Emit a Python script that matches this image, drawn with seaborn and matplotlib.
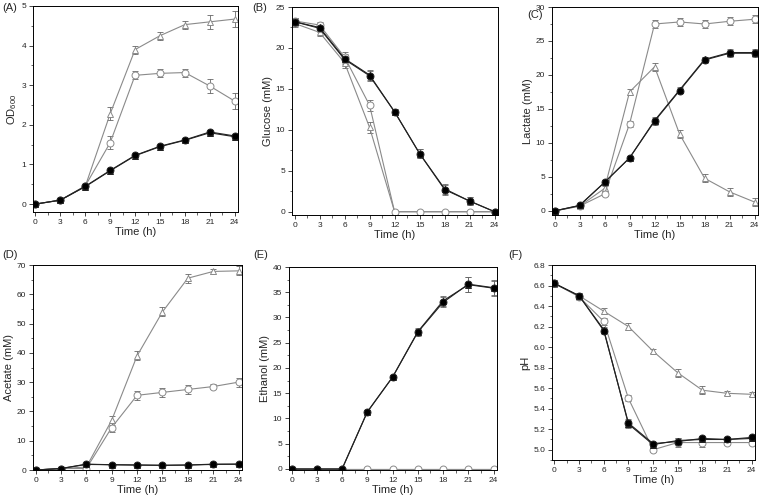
import numpy as np
import pandas as pd
import matplotlib
matplotlib.use("Agg")
import matplotlib.pyplot as plt
from matplotlib.ticker import MultipleLocator, AutoMinorLocator
import seaborn as sns

# sampling times (h)
time_h = [0, 3, 6, 9, 12, 15, 18, 21, 24]

# (A) OD600
od_fc = [0.0, 0.10, 0.45, 0.85, 1.23, 1.46, 1.62, 1.82, 1.72]
od_ft = [0.0, 0.10, 0.44, 0.84, 1.22, 1.45, 1.61, 1.80, 1.70]
od_oc = [0.0, 0.10, 0.46, 1.55, 3.25, 3.30, 3.32, 2.98, 2.60]
od_ot = [0.0, 0.10, 0.45, 2.28, 3.90, 4.25, 4.53, 4.60, 4.67]
od_err_f = [0.02, 0.02, 0.02, 0.04, 0.04, 0.04, 0.04, 0.05, 0.05]
od_err_o = [0.02, 0.03, 0.03, 0.16, 0.10, 0.10, 0.10, 0.18, 0.20]

# (B) Glucose (mM)
glc_fc = [23.2, 22.4, 18.6, 16.6, 12.2, 7.1, 2.7, 1.3, 0.0]
glc_ft = [23.2, 22.5, 18.7, 16.7, 12.2, 7.1, 2.8, 1.3, 0.0]
glc_oc = [23.3, 22.8, 18.9, 13.0, 0.0, 0.0, 0.0, 0.0, 0.0]
glc_ot = [23.0, 21.9, 18.2, 10.3, 0.0, 0.0, 0.0, 0.0, 0.0]
glc_err_f = [0.4, 0.4, 0.5, 0.6, 0.4, 0.5, 0.6, 0.5, 0.0]
glc_err_o = [0.4, 0.4, 0.6, 0.7, 0.0, 0.0, 0.0, 0.0, 0.0]

# (C) Lactate (mM)
lac_fc = [0.0, 0.8, 4.2, 7.8, 13.2, 17.7, 22.2, 23.2, 23.2]
lac_ft = [0.0, 0.8, 4.2, 7.8, 13.3, 17.8, 22.3, 23.3, 23.3]
lac_oc = [0.0, 0.7, 2.5, 12.8, 27.5, 27.8, 27.5, 27.9, 28.2]
lac_ot = [0.0, 0.7, 3.3, 17.5, 21.2, 11.3, 4.8, 2.8, 1.3]
lac_err_f = [0.2, 0.2, 0.3, 0.3, 0.5, 0.4, 0.4, 0.5, 0.5]
lac_err_o = [0.2, 0.2, 0.3, 0.4, 0.6, 0.6, 0.6, 0.6, 0.6]

# (D) Acetate (mM)
ace_fc = [0.0, 0.5, 2.0, 1.8, 1.7, 1.6, 1.7, 2.0, 2.0]
ace_ft = [0.0, 0.5, 1.9, 1.8, 1.7, 1.6, 1.7, 1.9, 2.0]
ace_oc = [0.0, 0.5, 0.5, 14.5, 25.5, 26.5, 27.5, 28.5, 30.0]
ace_ot = [0.0, 0.5, 1.0, 17.0, 39.0, 54.0, 65.5, 67.8, 68.0]
ace_err_f = [0.1, 0.1, 0.2, 0.2, 0.2, 0.2, 0.2, 0.2, 0.2]
ace_err_o = [0.2, 0.2, 0.3, 1.5, 1.5, 1.5, 1.5, 0.8, 1.5]

# (E) Ethanol (mM)
eth_fc = [0.0, 0.0, 0.0, 11.3, 18.2, 27.1, 33.0, 36.6, 35.9]
eth_ft = [0.0, 0.0, 0.0, 11.3, 18.2, 27.2, 33.3, 36.5, 35.8]
eth_oc = [0.0, 0.0, 0.0, 0.0, 0.0, 0.0, 0.0, 0.0, 0.0]
eth_ot = [0.0, 0.0, 0.0, 0.0, 0.0, 0.0, 0.0, 0.0, 0.0]
eth_err_f = [0.0, 0.0, 0.0, 0.4, 0.4, 0.7, 1.0, 1.5, 1.5]
eth_err_o = [0.0, 0.0, 0.0, 0.0, 0.0, 0.0, 0.0, 0.0, 0.0]

# (F) pH
ph_fc = [6.62, 6.50, 6.16, 5.26, 5.06, 5.08, 5.11, 5.10, 5.12]
ph_ft = [6.62, 6.50, 6.17, 5.25, 5.05, 5.09, 5.10, 5.10, 5.11]
ph_oc = [6.62, 6.49, 6.25, 5.50, 5.00, 5.07, 5.07, 5.07, 5.07]
ph_ot = [6.62, 6.50, 6.35, 6.20, 5.96, 5.75, 5.58, 5.55, 5.54]
ph_err_f = [0.03, 0.03, 0.03, 0.04, 0.02, 0.02, 0.02, 0.02, 0.02]
ph_err_o = [0.03, 0.03, 0.03, 0.03, 0.02, 0.04, 0.04, 0.02, 0.02]

panels = [
    ("(A)", "OD$_{600}$", od_fc, od_ft, od_oc, od_ot, od_err_f, od_err_o, (-0.2, 5), 1),
    ("(B)", "Glucose (mM)", glc_fc, glc_ft, glc_oc, glc_ot, glc_err_f, glc_err_o, (-0.4, 25), 5),
    ("(C)", "Lactate (mM)", lac_fc, lac_ft, lac_oc, lac_ot, lac_err_f, lac_err_o, (-0.6, 30), 5),
    ("(D)", "Acetate (mM)", ace_fc, ace_ft, ace_oc, ace_ot, ace_err_f, ace_err_o, (0, 70), 10),
    ("(E)", "Ethanol (mM)", eth_fc, eth_ft, eth_oc, eth_ot, eth_err_f, eth_err_o, (-0.2, 40), 5),
    ("(F)", "pH", ph_fc, ph_ft, ph_oc, ph_ot, ph_err_f, ph_err_o, (4.9, 6.8), 0.2),
]

# axes rectangles in pixels (left, right, top, bottom)
boxes = [
    (33, 238, 6, 212), (292, 498, 7, 215), (552, 758, 7, 215),
    (33, 242, 265, 470), (289, 497, 267, 470), (552, 755, 265, 460),
]
# panel tag positions in pixels (left x, centre y)
tag_pos = [(2, 8), (252, 8), (527, 15), (2, 255), (253, 255), (508, 255)]

sns.set_style("ticks")
plt.rcParams['font.family'] = ['Liberation Sans', 'DejaVu Sans']
plt.rcParams['mathtext.fontset'] = 'custom'
plt.rcParams['mathtext.rm'] = 'Liberation Sans'
plt.rcParams['mathtext.it'] = 'Liberation Sans'

W, H = 760, 498
fig = plt.figure(figsize=(W / 100, H / 100), dpi=100)

dark = "#222222"
grey = "#8a8a8a"

for (tag, ylab, fc, ft, oc, ot, err_f, err_o, ylim, step), (l, r, t, b), (tx, ty) in zip(panels, boxes, tag_pos):
    ax = fig.add_axes([l / W, 1 - b / H, (r - l) / W, (b - t) / H])
    df = pd.DataFrame({"t": time_h, "fc": fc, "ft": ft, "oc": oc, "ot": ot})

    series = [
        ("ot", "^", "white", grey, grey, err_o),
        ("oc", "o", "white", grey, grey, err_o),
        ("ft", "^", "black", dark, dark, err_f),
        ("fc", "o", "black", dark, dark, err_f),
    ]
    for col, mk, face, edge, lc, err in series:
        ax.errorbar(df["t"], df[col], yerr=err, fmt="none", ecolor="#666666",
                    elinewidth=0.6, capsize=2, capthick=0.6, zorder=1)
        sns.lineplot(data=df, x="t", y=col, ax=ax, color=lc, linewidth=0.8,
                     marker=mk, markersize=5, markerfacecolor=face,
                     markeredgecolor=edge, markeredgewidth=0.7, zorder=2)

    ax.set_xlim(-0.3, 24.4)
    ax.set_ylim(*ylim)
    ax.xaxis.set_major_locator(MultipleLocator(3))
    ax.xaxis.set_minor_locator(AutoMinorLocator(2))
    ax.yaxis.set_major_locator(MultipleLocator(step))
    ax.yaxis.set_minor_locator(AutoMinorLocator(2))
    if tag == "(F)":
        ax.set_yticks(np.round(np.arange(5.0, 6.81, 0.2), 1))
        ax.yaxis.set_major_formatter(plt.FormatStrFormatter("%.1f"))
    ax.tick_params(which="major", length=3, width=0.6, labelsize=6, pad=2)
    ax.tick_params(which="minor", length=1.8, width=0.5)
    for s in ax.spines.values():
        s.set_linewidth(0.7)
        s.set_color("black")
    ax.set_xlabel("Time (h)", fontsize=8, labelpad=1)
    ax.set_ylabel(ylab, fontsize=8, labelpad=2)
    fig.text(tx / W, 1 - ty / H, tag, fontsize=8, ha="left", va="center")

fig.savefig("out.png", dpi=100)
